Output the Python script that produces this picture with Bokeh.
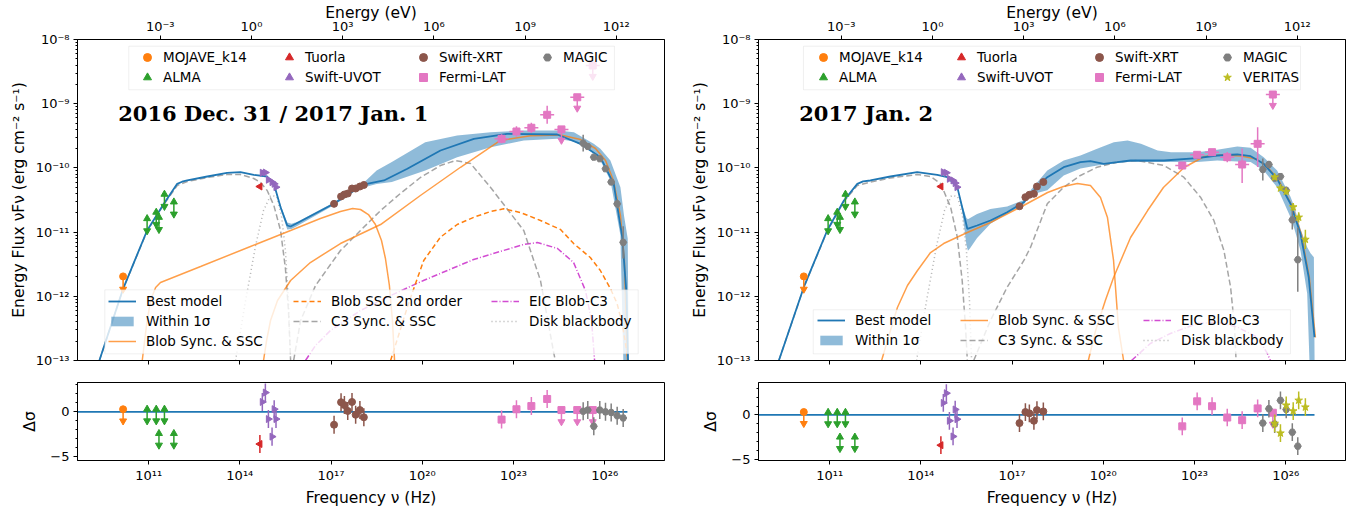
from bokeh.plotting import figure
from bokeh.models import (Range1d, LogAxis, LogScale, FixedTicker, CustomJSTickFormatter,
                          Legend, LegendItem, BoxAnnotation, Label)
from bokeh.layouts import row, column
from bokeh.embed import file_html
from bokeh.resources import INLINE

H_EV = 4.135667696e-15
X_LO, X_HI = 10 ** 8.66, 10 ** 27.97
NU_TICKS = [1e11, 1e14, 1e17, 1e20, 1e23, 1e26]
E_TICKS = [1e-3, 1.0, 1e3, 1e6, 1e9, 1e12]
F_TICKS = [1e-13, 1e-12, 1e-11, 1e-10, 1e-9, 1e-8]

# ====================== LEFT PANEL DATA (log10 nu [Hz], log10 nuFnu) ======================
L_best_nu = [9.38, 10.16, 10.95, 11.50, 11.94, 12.10, 12.27, 12.93, 13.58, 14.02, 14.46, 14.90, 15.12, 15.34,
             15.56, 15.67, 15.86, 17.09, 18.06, 18.74, 19.51, 20.60, 21.70, 22.79, 24.44, 25.21, 25.86,
             26.30, 26.58, 26.72, 26.77]
L_best_f = [-13.0, -11.883, -10.975, -10.559, -10.248, -10.215, -10.196, -10.134, -10.076, -10.067, -10.107,
            -10.134, -10.248, -10.612, -10.897, -10.913, -10.866, -10.559, -10.259, -10.196, -10.014, -9.729,
            -9.547, -9.469, -9.480, -9.625, -9.833, -10.248, -11.079, -11.961, -13.0]
L_band_nu = [15.30, 15.45, 15.56, 15.70, 15.90, 17.09, 17.80, 18.10, 18.50, 19.00, 20.10, 21.15, 22.25, 23.34,
             24.44, 24.99, 25.64, 25.86, 26.19, 26.52, 26.64, 26.76, 26.80]
L_band_hi = [-10.52, -10.72, -10.85, -10.87, -10.84, -10.54, -10.30, -10.22, -10.04, -9.91, -9.60, -9.495,
             -9.444, -9.417, -9.417, -9.444, -9.625, -9.70, -9.885, -10.30, -10.75, -11.10, -13.5]
L_band_lo = [-10.56, -10.80, -10.96, -10.95, -10.90, -10.58, -10.36, -10.30, -10.25, -10.22, -10.04, -9.833,
             -9.678, -9.573, -9.547, -9.59, -9.76, -9.885, -10.196, -11.05, -13.5, -13.5, -13.5]
L_bsync_nu = [10.79, 10.93, 11.06, 11.23, 11.39, 12.71, 14.35, 15.67, 16.65, 17.31, 17.71, 17.97, 18.23, 18.46,
              18.66, 18.79, 18.92, 19.02, 19.09]
L_bsync_f = [-13.0, -12.455, -12.065, -11.863, -11.785, -11.536, -11.224, -10.975, -10.788, -10.679, -10.632,
             -10.648, -10.726, -10.882, -11.131, -11.411, -11.832, -12.377, -13.0]
L_bssc_nu = [14.78, 14.88, 15.01, 15.24, 15.67, 16.32, 17.31, 18.63, 19.94, 21.26, 22.57, 23.56, 24.55, 25.21,
             25.70, 26.03, 26.29, 26.52, 26.65, 26.75]
L_bssc_f = [-13.0, -12.69, -12.377, -12.065, -11.754, -11.474, -11.178, -10.882, -10.43, -9.99, -9.573, -9.50,
            -9.487, -9.558, -9.698, -9.885, -10.196, -10.741, -11.442, -13.0]
L_ssc2_nu = [18.96, 19.22, 19.51, 19.78, 20.05, 20.60, 21.15, 21.70, 22.25, 22.68, 23.23, 23.89, 24.55, 24.99,
             25.53, 25.86, 26.19, 26.41, 26.59, 26.74, 26.77]
L_ssc2_f = [-13.0, -12.61, -12.17, -11.80, -11.442, -11.079, -10.882, -10.768, -10.679, -10.637, -10.695,
            -10.819, -10.960, -11.182, -11.396, -11.598, -11.879, -12.112, -12.455, -12.891, -13.0]
L_c3sync_nu = [9.38, 10.16, 10.95, 11.50, 11.94, 12.27, 12.93, 13.58, 14.02, 14.46, 14.68, 14.90, 15.12, 15.34,
               15.50, 15.60, 15.67]
L_c3sync_f = [-13.0, -11.886, -10.983, -10.57, -10.274, -10.212, -10.15, -10.103, -10.103, -10.165, -10.227,
              -10.352, -10.586, -10.975, -11.567, -12.221, -13.0]
L_c3ssc_nu = [15.77, 16.00, 16.49, 17.31, 17.97, 18.63, 19.28, 19.94, 20.60, 21.09, 21.59, 22.25, 23.34, 23.89,
              24.33, 24.38]
L_c3ssc_f = [-13.0, -12.377, -11.832, -11.287, -10.975, -10.664, -10.399, -10.15, -9.963, -9.885, -9.931,
             -10.305, -10.975, -11.754, -12.89, -13.0]
L_eic_nu = [16.16, 16.49, 16.98, 17.97, 18.96, 20.04, 21.69, 23.33, 23.79, 24.45, 24.98, 25.37, 25.57, 25.67]
L_eic_f = [-13.0, -12.766, -12.533, -12.221, -11.988, -11.754, -11.427, -11.193, -11.162, -11.255, -11.474,
           -11.910, -12.377, -13.0]
L_disk_nu = [13.86, 14.19, 14.52, 14.78, 15.01, 15.21, 15.37, 15.50, 15.60, 15.67]
L_disk_f = [-13.0, -12.065, -11.209, -10.664, -10.43, -10.445, -10.741, -11.287, -12.065, -13.0]

L_mojave_nu, L_mojave_f, L_mojave_res = [10.16], [-11.69], [0.29]
L_alma_nu = [10.95, 11.25, 11.34, 11.52, 11.83]
L_alma_f = [-10.79, -10.69, -10.77, -10.41, -10.53]
L_alma_res = [0.3, 0.3, -2.4, 0.3, -2.4]
L_tuorla_nu, L_tuorla_f, L_tuorla_res = [14.66], [-10.29], [-3.57]
L_uvot_nu = [14.74, 14.84, 14.94, 15.06, 15.13, 15.19]
L_uvot_f = [-10.076, -10.072, -10.185, -10.222, -10.248, -10.30]
L_uvot_res = [1.1, 2.14, -0.8, -2.75, 0.3, -0.8]
L_xrt_nu = [17.10, 17.33, 17.44, 17.55, 17.69, 17.81, 17.95, 18.08]
L_xrt_f = [-10.56, -10.445, -10.414, -10.399, -10.321, -10.321, -10.29, -10.266]
L_xrt_res = [-1.43, 1.07, 0.75, 0.1, 1.1, -0.32, 0.2, -0.6]
L_lat_nu = [22.61, 23.10, 23.59, 24.11]
L_lat_f = [-9.547, -9.433, -9.375, -9.173]
L_lat_elo = [0.07, 0.08, 0.08, 0.14]
L_lat_ehi = [0.07, 0.08, 0.08, 0.14]
L_lat_res = [-0.86, 0.29, 0.64, 1.43]
L_latul_nu = [24.58, 25.10, 25.61]
L_latul_f = [-9.40, -8.90, -8.405]
L_latul_res = [0.2, 0.2, 0.2]
L_magic_nu = [25.295, 25.446, 25.644, 25.841, 26.029, 26.216, 26.413, 26.611]
L_magic_f = [-9.615, -9.667, -9.833, -9.858, -10.014, -10.22, -10.56, -11.16]
L_magic_err = [0.13, 0.05, 0.04, 0.04, 0.04, 0.05, 0.07, 0.25]
L_magic_res = [0.07, 0.2, -1.6, 0.2, 0.0, -0.07, -0.43, -0.68]
L_res_line_nu = [8.66, 26.75]

# ====================== RIGHT PANEL DATA ======================
R_best_nu = [9.33, 10.15, 10.92, 11.47, 11.91, 12.10, 12.34, 13.00, 13.88, 14.54, 14.87, 15.20, 15.36, 15.53,
             15.85, 16.29, 16.84, 17.39, 17.61, 18.16, 18.70, 19.25, 19.58, 20.02, 20.46, 20.90, 22.00, 23.09,
             23.75, 24.41, 24.85, 25.28, 25.72, 26.16, 26.49, 26.76, 26.95]
R_best_f = [-13.0, -11.858, -10.975, -10.508, -10.248, -10.21, -10.196, -10.134, -10.067, -10.107, -10.145,
            -10.30, -10.612, -10.949, -10.897, -10.819, -10.69, -10.534, -10.403, -10.145, -9.989, -9.911,
            -9.896, -9.936, -9.911, -9.885, -9.885, -9.849, -9.807, -9.791, -9.818, -9.936, -10.17, -10.559,
            -11.027, -11.703, -12.637]
R_band_nu = [15.20, 15.36, 15.50, 15.55, 15.62, 15.85, 16.29, 16.84, 17.39, 17.61, 18.16, 18.70, 19.25, 19.80,
             20.35, 20.80, 21.24, 21.79, 22.23, 23.09, 23.75, 24.41, 24.85, 25.28, 25.72, 26.16, 26.29, 26.49,
             26.71, 26.82, 26.93, 26.96]
R_band_hi = [-10.29, -10.58, -10.78, -10.80, -10.78, -10.72, -10.64, -10.60, -10.50, -10.35, -10.04, -9.885,
             -9.807, -9.70, -9.60, -9.573, -9.625, -9.73, -9.755, -9.755, -9.718, -9.667, -9.687, -9.833,
             -10.04, -10.45, -10.61, -10.95, -11.235, -11.33, -11.39, -13.5]
R_band_lo = [-10.31, -10.66, -11.20, -11.29, -11.25, -11.09, -10.87, -10.71, -10.57, -10.42, -10.35, -10.12,
             -10.01, -9.963, -9.93, -9.91, -9.91, -9.91, -9.91, -9.91, -9.885, -9.90, -9.91, -10.04, -10.30,
             -10.77, -10.95, -11.29, -11.96, -13.5, -13.5, -13.5]
R_bsync_nu = [12.71, 13.00, 13.23, 13.56, 13.89, 14.32, 14.75, 15.53, 16.29, 17.38, 18.17, 18.69, 19.15, 19.58,
              19.91, 20.14, 20.34, 20.50, 20.67]
R_bsync_f = [-13.0, -12.533, -12.174, -11.832, -11.598, -11.318, -11.178, -11.006, -10.850, -10.586, -10.383,
             -10.29, -10.243, -10.274, -10.461, -10.773, -11.442, -12.486, -13.0]
R_bssc_nu = [19.51, 19.75, 20.07, 20.34, 20.90, 21.46, 21.98, 22.66, 23.32, 23.88, 24.54, 25.03, 25.36, 25.76,
             26.19, 26.52, 26.78, 26.98]
R_bssc_f = [-13.0, -12.533, -12.065, -11.707, -11.084, -10.664, -10.305, -9.994, -9.822, -9.80, -9.815, -9.86,
            -9.963, -10.181, -10.570, -11.037, -11.707, -12.642]
R_c3sync_nu = [9.33, 10.15, 10.92, 11.47, 11.91, 12.34, 13.00, 13.88, 14.32, 14.65, 14.98, 15.20, 15.36, 15.47,
               15.53]
R_c3sync_f = [-13.0, -11.863, -10.983, -10.523, -10.274, -10.22, -10.157, -10.103, -10.134, -10.243, -10.612,
              -11.079, -11.754, -12.481, -13.0]
R_c3ssc_nu = [15.74, 16.29, 16.84, 17.39, 17.61, 18.16, 18.70, 19.25, 19.80, 20.46, 21.12, 22.00, 22.65, 23.20,
              23.64, 23.97, 24.19, 24.32, 24.37]
R_c3ssc_f = [-13.0, -12.377, -11.858, -11.442, -11.235, -10.559, -10.30, -10.118, -9.989, -9.911, -9.885,
             -9.963, -10.145, -10.456, -10.819, -11.287, -11.858, -12.481, -13.0]
R_eic_nu = [20.93, 21.55, 22.21, 23.10, 23.76, 24.42, 25.07, 25.40, 25.50]
R_eic_f = [-13.0, -12.735, -12.579, -12.424, -12.403, -12.481, -12.637, -12.891, -13.0]
R_disk_nu = [13.86, 14.19, 14.52, 14.78, 15.01, 15.21, 15.37, 15.50, 15.60, 15.67]
R_disk_f = [-13.0, -12.065, -11.209, -10.664, -10.43, -10.445, -10.741, -11.287, -12.065, -13.0]

R_mojave_nu, R_mojave_f, R_mojave_res = [10.15], [-11.69], [0.33]
R_alma_nu = [10.95, 11.25, 11.34, 11.52, 11.83]
R_alma_f = [-10.79, -10.69, -10.77, -10.41, -10.53]
R_alma_res = [0.3, 0.3, -2.5, 0.3, -2.5]
R_tuorla_nu, R_tuorla_f, R_tuorla_res = [14.66], [-10.29], [-3.42]
R_uvot_nu = [14.74, 14.84, 14.94, 15.06, 15.13, 15.19]
R_uvot_f = [-10.067, -10.076, -10.17, -10.196, -10.237, -10.30]
R_uvot_res = [1.36, 2.46, -0.66, -2.43, 0.62, -0.48]
R_xrt_nu = [17.245, 17.44, 17.57, 17.72, 17.82, 18.03]
R_xrt_f = [-10.597, -10.456, -10.419, -10.403, -10.29, -10.22]
R_xrt_res = [-0.92, 0.33, 0.18, -0.66, 0.55, 0.40]
R_lat_nu = [22.60, 23.09, 23.58, 24.08, 24.57, 25.08]
R_lat_f = [-9.963, -9.796, -9.755, -9.833, -9.947, -9.625]
R_lat_elo = [0.05, 0.05, 0.05, 0.08, 0.29, 0.36]
R_lat_ehi = [0.05, 0.05, 0.05, 0.08, 0.25, 0.26]
R_lat_res = [-1.29, 1.54, 0.99, -0.29, -0.59, 0.74]
R_latul_nu, R_latul_f, R_latul_res = [25.58], [-8.857], [0.25]
R_magic_nu = [25.25, 25.45, 25.64, 25.83, 26.02, 26.22, 26.40]
R_magic_f = [-10.025, -9.947, -10.16, -10.134, -10.35, -10.81, -11.43]
R_magic_err = [0.17, 0.06, 0.05, 0.05, 0.06, 0.15, 0.5]
R_magic_res = [-0.92, 0.7, -1.03, 1.65, 0.62, -1.95, -3.53]
R_ver_nu = [25.64, 25.83, 26.02, 26.25, 26.43, 26.65]
R_ver_f = [-10.145, -10.316, -10.368, -10.61, -10.77, -11.115]
R_ver_err = [0.04, 0.04, 0.05, 0.06, 0.08, 0.15]
R_ver_res = [-0.96, -2.06, 1.1, 0.44, 1.65, 0.88]
R_res_line_nu = [8.66, 26.95]

# ====================== STYLE ======================
C_BLUE, C_ORANGE, C_GREEN, C_RED = "#1f77b4", "#ff7f0e", "#2ca02c", "#d62728"
C_PURPLE, C_BROWN, C_PINK, C_GRAY, C_OLIVE = "#9467bd", "#8c564b", "#e377c2", "#7f7f7f", "#bcbd22"
C_EIC = "#bf00bf"
FONT = "DejaVu Sans"
UL_LEN = 0.2
RES_UL_LEN = 1.3
XERR_LAT = 0.23

SUP_JS = """
const e = Math.round(Math.log10(tick));
const m = {"-":"\\u207b","0":"\\u2070","1":"\\u00b9","2":"\\u00b2","3":"\\u00b3","4":"\\u2074",
           "5":"\\u2075","6":"\\u2076","7":"\\u2077","8":"\\u2078","9":"\\u2079"};
let s = "";
for (const c of String(e)) { s += m[c]; }
return "10" + s;
"""
LIN_JS = """
return tick < 0 ? "\\u2212" + Math.abs(tick) : String(tick);
"""


def lg(v):
    return [10.0 ** a for a in v]


def style_axis(ax):
    ax.major_label_text_font = FONT
    ax.major_label_text_font_size = "13px"
    ax.major_label_text_color = "black"
    ax.axis_label_text_font = FONT
    ax.axis_label_text_font_size = "15.5px"
    ax.axis_label_text_font_style = "normal"
    ax.axis_label_text_color = "black"
    ax.major_tick_in = 0
    ax.major_tick_out = 4
    ax.minor_tick_in = 0
    ax.minor_tick_out = 2
    ax.axis_line_color = "black"
    ax.major_tick_line_color = "black"
    ax.minor_tick_line_color = "black"


def points(p, nu, f, color, marker, size=7, elo=None, ehi=None, xerr=None, ul=False, ul_len=UL_LEN,
           log=True, alpha=1.0, angle=0.0):
    x = lg(nu)
    y = lg(f) if log else list(f)
    if xerr is not None:
        p.segment(x0=[10 ** (a - xerr) for a in nu], y0=y, x1=[10 ** (a + xerr) for a in nu], y1=y,
                  line_color=color, line_width=1.5, line_alpha=alpha)
    if elo is not None:
        if log:
            y0 = [10 ** (a - e) for a, e in zip(f, elo)]
            y1 = [10 ** (a + e) for a, e in zip(f, ehi)]
        else:
            y0 = [a - e for a, e in zip(f, elo)]
            y1 = [a + e for a, e in zip(f, ehi)]
        p.segment(x0=x, y0=y0, x1=x, y1=y1, line_color=color, line_width=1.5, line_alpha=alpha)
    if ul:
        if log:
            yend = [10 ** (a - ul_len) for a in f]
        else:
            yend = [a - ul_len for a in f]
        p.segment(x0=x, y0=y, x1=x, y1=yend, line_color=color, line_width=1.5, line_alpha=alpha)
        p.scatter(x=x, y=yend, marker="inverted_triangle", size=7, fill_color=color, line_color=color,
                  alpha=alpha)
    return p.scatter(x=x, y=y, marker=marker, size=size, angle=angle, fill_color=color, line_color=color,
                     alpha=alpha)


def col_legend(p, items, x, y, line=False):
    lgd = Legend(items=items, location=(x, y), orientation="vertical", padding=0, margin=0, spacing=0,
                 glyph_width=28 if line else 20, glyph_height=12 if line else 20,
                 label_standoff=10 if line else 6, label_height=20,
                 label_text_font=FONT, label_text_font_size="13.5px", label_text_color="black",
                 border_line_alpha=0, background_fill_alpha=0)
    p.add_layout(lgd, "center")


def box(p, x0, x1, y0, y1):
    p.add_layout(BoxAnnotation(left=10 ** x0, right=10 ** x1, bottom=10 ** y0, top=10 ** y1,
                               fill_color="white", fill_alpha=0.8, line_color="#cccccc",
                               line_width=1))


def make_main(D):
    p = figure(width=681, height=371, x_axis_type="log", y_axis_type="log",
               x_range=Range1d(X_LO, X_HI), y_range=Range1d(1e-13, 1e-8),
               output_backend="svg", toolbar_location=None,
               min_border_left=77, min_border_right=17, min_border_top=39, min_border_bottom=11)
    p.xgrid.visible = False
    p.ygrid.visible = False
    p.outline_line_color = "black"
    p.background_fill_color = "white"

    xa = p.xaxis[0]
    style_axis(xa)
    xa.ticker = FixedTicker(ticks=NU_TICKS)
    xa.major_label_text_font_size = "1px"
    xa.major_label_text_alpha = 0
    xa.major_label_standoff = 0

    ya = p.yaxis[0]
    style_axis(ya)
    ya.ticker = FixedTicker(ticks=F_TICKS,
                            minor_ticks=[k * 10.0 ** e for e in range(-13, -8) for k in range(2, 10)])
    ya.formatter = CustomJSTickFormatter(code=SUP_JS)
    ya.axis_label = "Energy Flux \u03bdF\u03bd (erg cm\u207b\u00b2 s\u207b\u00b9)"
    ya.major_label_standoff = 4
    ya.axis_label_standoff = 5

    p.extra_x_ranges = {"eV": Range1d(X_LO * H_EV, X_HI * H_EV)}
    p.extra_x_scales = {"eV": LogScale()}
    ta = LogAxis(x_range_name="eV", axis_label="Energy (eV)", ticker=FixedTicker(ticks=E_TICKS),
                 formatter=CustomJSTickFormatter(code=SUP_JS))
    style_axis(ta)
    ta.major_label_standoff = 2
    ta.axis_label_standoff = -6
    p.add_layout(ta, "above")

    # ---- model curves
    band = p.varea(x=lg(D["band_nu"]), y1=lg(D["band_lo"]), y2=lg(D["band_hi"]),
                   fill_color=C_BLUE, fill_alpha=0.5)
    disk = p.line(lg(D["disk_nu"]), lg(D["disk_f"]), line_color=C_GRAY, line_alpha=0.6, line_width=1.5,
                  line_dash="1 3")
    eic = p.line(lg(D["eic_nu"]), lg(D["eic_f"]), line_color=C_EIC, line_alpha=0.7, line_width=1.5,
                 line_dash="6 2 1 2")
    c3a = p.line(lg(D["c3sync_nu"]), lg(D["c3sync_f"]), line_color=C_GRAY, line_alpha=0.7, line_width=1.5,
                 line_dash="6 3")
    p.line(lg(D["c3ssc_nu"]), lg(D["c3ssc_f"]), line_color=C_GRAY, line_alpha=0.7, line_width=1.5,
           line_dash="6 3")
    ssc2 = None
    if "ssc2_nu" in D:
        ssc2 = p.line(lg(D["ssc2_nu"]), lg(D["ssc2_f"]), line_color=C_ORANGE, line_width=1.5,
                      line_dash="5 3")
    bs = p.line(lg(D["bsync_nu"]), lg(D["bsync_f"]), line_color=C_ORANGE, line_alpha=0.75, line_width=1.5)
    p.line(lg(D["bssc_nu"]), lg(D["bssc_f"]), line_color=C_ORANGE, line_alpha=0.75, line_width=1.5)
    best = p.line(lg(D["best_nu"]), lg(D["best_f"]), line_color=C_BLUE, line_width=1.8)

    # ---- data points
    r_moj = points(p, D["mojave_nu"], D["mojave_f"], C_ORANGE, "circle", ul=True)
    r_alma = points(p, D["alma_nu"], D["alma_f"], C_GREEN, "triangle", ul=True, ul_len=0.19)
    r_tuo = points(p, D["tuorla_nu"], D["tuorla_f"], C_RED, "triangle", angle=1.5708)
    r_uvot = points(p, D["uvot_nu"], D["uvot_f"], C_PURPLE, "triangle", angle=-1.5708)
    r_xrt = points(p, D["xrt_nu"], D["xrt_f"], C_BROWN, "circle")
    r_lat = points(p, D["lat_nu"], D["lat_f"], C_PINK, "square", elo=D["lat_elo"], ehi=D["lat_ehi"],
                   xerr=XERR_LAT)
    points(p, D["latul_nu"], D["latul_f"], C_PINK, "square", xerr=XERR_LAT, ul=True, ul_len=0.17)
    r_magic = points(p, D["magic_nu"], D["magic_f"], C_GRAY, "hex", elo=D["magic_err"], ehi=D["magic_err"])
    r_ver = None
    if "ver_nu" in D:
        r_ver = points(p, D["ver_nu"], D["ver_f"], C_OLIVE, "star", size=8, elo=D["ver_err"],
                       ehi=D["ver_err"])

    # ---- title
    p.add_layout(Label(x=10 ** 10.0, y=10 ** -9.148, text=D["title"], text_font="DejaVu Serif",
                       text_font_style="bold", text_font_size="21px", text_baseline="middle",
                       text_color="black"))

    # ---- legend 1 (data)
    box(p, *D["box1"])
    cx = D["leg1_x"]
    col_legend(p, [LegendItem(label="MOJAVE_k14", renderers=[r_moj]),
                   LegendItem(label="ALMA", renderers=[r_alma])], cx[0], 272.7)
    col_legend(p, [LegendItem(label="Tuorla", renderers=[r_tuo]),
                   LegendItem(label="Swift-UVOT", renderers=[r_uvot])], cx[1], 272.7)
    col_legend(p, [LegendItem(label="Swift-XRT", renderers=[r_xrt]),
                   LegendItem(label="Fermi-LAT", renderers=[r_lat])], cx[2], 272.7)
    if r_ver is not None:
        col_legend(p, [LegendItem(label="MAGIC", renderers=[r_magic]),
                       LegendItem(label="VERITAS", renderers=[r_ver])], cx[3], 272.7)
    else:
        col_legend(p, [LegendItem(label="MAGIC", renderers=[r_magic])], cx[3], 292.7)

    # ---- legend 2 (models)
    box(p, *D["box2"])
    lx = D["leg2_x"]
    if ssc2 is not None:
        col_legend(p, [LegendItem(label="Best model", renderers=[best]),
                       LegendItem(label="Within 1\u03c3", renderers=[band]),
                       LegendItem(label="Blob Sync. & SSC", renderers=[bs])], lx[0], 9.3, line=True)
        col_legend(p, [LegendItem(label="Blob SSC 2nd order", renderers=[ssc2]),
                       LegendItem(label="C3 Sync. & SSC", renderers=[c3a])], lx[1], 29.3, line=True)
        col_legend(p, [LegendItem(label="EIC Blob-C3", renderers=[eic]),
                       LegendItem(label="Disk blackbody", renderers=[disk])], lx[2], 29.3, line=True)
    else:
        col_legend(p, [LegendItem(label="Best model", renderers=[best]),
                       LegendItem(label="Within 1\u03c3", renderers=[band])], lx[0], 10, line=True)
        col_legend(p, [LegendItem(label="Blob Sync. & SSC", renderers=[bs]),
                       LegendItem(label="C3 Sync. & SSC", renderers=[c3a])], lx[1], 10, line=True)
        col_legend(p, [LegendItem(label="EIC Blob-C3", renderers=[eic]),
                       LegendItem(label="Disk blackbody", renderers=[disk])], lx[2], 10, line=True)
    return p


def make_resid(D, main):
    r = figure(width=681, height=138, x_axis_type="log", x_range=main.x_range,
               y_range=Range1d(D["rlo"], D["rhi"]), output_backend="svg", toolbar_location=None,
               min_border_left=77, min_border_right=17, min_border_top=11, min_border_bottom=48)
    r.xgrid.visible = False
    r.ygrid.visible = False
    r.outline_line_color = "black"
    xa = r.xaxis[0]
    style_axis(xa)
    xa.ticker = FixedTicker(ticks=NU_TICKS)
    xa.formatter = CustomJSTickFormatter(code=SUP_JS)
    xa.axis_label = "Frequency \u03bd (Hz)"
    xa.major_label_standoff = 3
    xa.axis_label_standoff = 3
    ya = r.yaxis[0]
    style_axis(ya)
    ya.ticker = FixedTicker(ticks=[-5, 0], minor_ticks=list(range(-5, 4)))
    ya.formatter = CustomJSTickFormatter(code=LIN_JS)
    ya.axis_label = "\u0394\u03c3"
    ya.major_label_standoff = 4
    ya.axis_label_standoff = 8

    r.line(lg(D["res_line_nu"]), [0, 0], line_color=C_BLUE, line_width=1.8)
    one = lambda v: [1.0] * len(v)
    points(r, D["mojave_nu"], D["mojave_res"], C_ORANGE, "circle", ul=True, ul_len=RES_UL_LEN, log=False)
    points(r, D["alma_nu"], D["alma_res"], C_GREEN, "triangle", ul=True, ul_len=RES_UL_LEN, log=False)
    points(r, D["tuorla_nu"], D["tuorla_res"], C_RED, "triangle", angle=1.5708,
           elo=one(D["tuorla_nu"]), ehi=one(D["tuorla_nu"]), log=False)
    points(r, D["uvot_nu"], D["uvot_res"], C_PURPLE, "triangle", angle=-1.5708,
           elo=one(D["uvot_nu"]), ehi=one(D["uvot_nu"]), log=False)
    points(r, D["xrt_nu"], D["xrt_res"], C_BROWN, "circle", elo=one(D["xrt_nu"]), ehi=one(D["xrt_nu"]),
           log=False)
    points(r, D["lat_nu"], D["lat_res"], C_PINK, "square", elo=one(D["lat_nu"]), ehi=one(D["lat_nu"]),
           log=False)
    points(r, D["latul_nu"], D["latul_res"], C_PINK, "square", ul=True, ul_len=RES_UL_LEN, log=False)
    points(r, D["magic_nu"], D["magic_res"], C_GRAY, "hex", elo=one(D["magic_nu"]), ehi=one(D["magic_nu"]),
           log=False)
    if "ver_nu" in D:
        points(r, D["ver_nu"], D["ver_res"], C_OLIVE, "star", size=8, elo=one(D["ver_nu"]),
               ehi=one(D["ver_nu"]), log=False)
    return r


def gather(prefix):
    g = globals()
    return {k[len(prefix):]: v for k, v in g.items() if k.startswith(prefix)}


DL = gather("L_")
DL.update(title="2016 Dec. 31 / 2017 Jan. 1", rlo=-5.40, rhi=3.26,
          leg1_x=[60, 202, 336, 460], leg2_x=[31, 216, 414],
          box1=(10.347, 26.324, -8.783, -8.104), box2=(9.558, 27.104, -12.896, -11.899))
DR = gather("R_")
DR.update(title="2017 Jan. 2", rlo=-5.15, rhi=3.67,
          leg1_x=[55, 193, 331, 459], leg2_x=[59, 202, 385],
          box1=(10.14, 26.49, -8.783, -8.104), box2=(10.46, 26.16, -12.896, -12.21))

pL = make_main(DL)
rL = make_resid(DL, pL)
pR = make_main(DR)
rR = make_resid(DR, pR)

layout = row(column(pL, rL, spacing=0), column(pR, rR, spacing=0), spacing=0)
open("out.html", "w").write(file_html(layout, INLINE, title="SED"))
